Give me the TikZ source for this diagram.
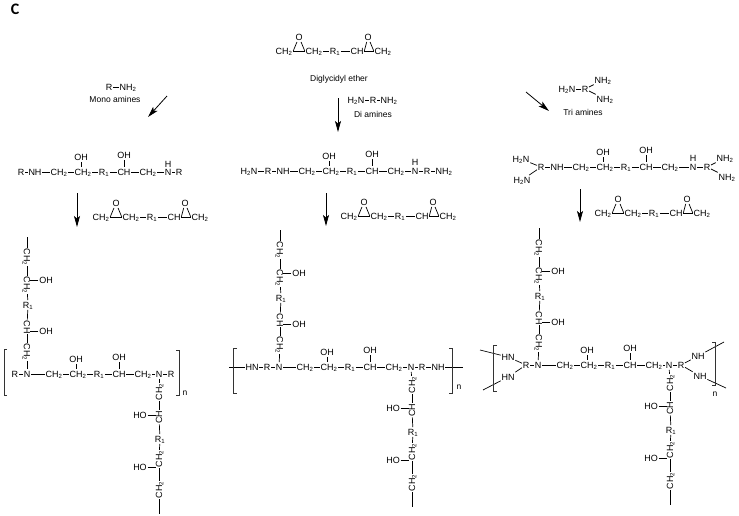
\documentclass[tikz,border=0pt]{standalone}
\usepackage{fontspec}
\setmainfont{Liberation Sans}
\newfontfamily\panelfont{Carlito}
\usepackage{tikz}
\usetikzlibrary{arrows.meta}

\newcommand{\chtwo}{CH\textsubscript{2}}
\newcommand{\chone}{CH}
\newcommand{\rone}{R\textsubscript{1}}
\newcommand{\ntwo}{NH\textsubscript{2}}
\newcommand{\hntwo}{H\textsubscript{2}N}

\tikzset{
  atom/.style={font=\fontsize{9}{10}\selectfont,inner xsep=.6pt,inner ysep=1.5pt,text height=6.4pt,text depth=0pt},
  caption/.style={font=\fontsize{8.5}{10}\selectfont,inner sep=0pt},
  downatom/.style={atom,rotate=-90},
  upatom/.style={atom,rotate=90},
  bond/.style={line width=.7pt},
  sidebond/.style={bond,shorten >=3pt},
  reaction/.style={line width=.8pt,-{Stealth[length=11pt,width=6pt,inset=2.5pt]}},
  brk/.style={line width=.8pt,black!80}
}

% epoxide ends with the R1 link
\newcommand{\epoxy}[3]{%
  \begin{scope}[shift={(#2,#3)},name prefix=#1-]
    \node[atom] (a) at (0,0) {\chtwo};
    \node[atom] (o1) at (15,-14) {O};
    \node[atom] (b) at (30,0) {\chtwo};
    \node[atom] (r) at (51,0) {\rone};
    \node[atom] (c) at (73,0) {\chone};
    \node[atom] (o2) at (84,-14) {O};
    \node[atom] (d) at (99,0) {\chtwo};
    \draw[bond] (a) -- (b);
    \draw[bond] (o1) -- (a.east);
    \draw[bond] (o1) -- (b.west);
    \draw[bond] (b) -- (r);
    \draw[bond] (r) -- (c);
    \draw[bond] (c) -- (d);
    \draw[bond] (o2) -- (c.east);
    \draw[bond] (o2) -- (d.west);
  \end{scope}}

% opened middle part of the chain
\newcommand{\midchain}[3]{%
  \begin{scope}[shift={(#2,#3)},name prefix=#1-]
    \node[atom] (a) at (0,0) {\chtwo};
    \node[atom] (b) at (24,0) {\chtwo};
    \node[atom] (r) at (45,0) {\rone};
    \node[atom] (c) at (65,0) {\chone};
    \node[atom] (d) at (89,0) {\chtwo};
    \node[atom] (oh1) at (22,-15) {OH};
    \node[atom] (oh2) at (65,-17) {OH};
    \draw[bond] (a) -- (b);
    \draw[bond] (b) -- (r);
    \draw[bond] (r) -- (c);
    \draw[bond] (c) -- (d);
    \draw[bond] (oh1) -- (oh1 |- b.north);
    \draw[bond] (oh2) -- (c);
  \end{scope}}

% side chain above the nitrogen
\newcommand{\upchain}[3]{%
  \begin{scope}[shift={(#2,#3)},name prefix=#1-]
    \node[downatom] (a) at (0,-22) {\chtwo};
    \node[downatom] (b) at (0,-47) {\chone};
    \node[atom] (r) at (1,-69) {\rone};
    \node[downatom] (c) at (0,-89) {\chtwo};
    \node[downatom] (d) at (0,-117) {\chtwo};
    \coordinate (e) at (0,-137);
    \node[atom] (oh1) at (19,-43) {OH};
    \node[atom] (oh2) at (19,-94) {OH};
    \draw[bond] (a) -- (b);
    \draw[bond] (b) -- (r);
    \draw[bond] (r) -- (c);
    \draw[bond] (c) -- (d);
    \draw[bond] (d) -- (e);
    \draw[sidebond] (oh1) -- (oh1 -| b);
    \draw[sidebond] (oh2) -- (oh2 -| c);
  \end{scope}}

% side chain below the nitrogen
\newcommand{\downchain}[3]{%
  \begin{scope}[shift={(#2,#3)},name prefix=#1-]
    \node[upatom] (a) at (0,18) {\chtwo};
    \node[upatom] (b) at (0,43) {\chone};
    \node[atom] (r) at (1,65) {\rone};
    \node[upatom] (c) at (0,85) {\chtwo};
    \node[upatom] (d) at (0,116) {\chtwo};
    \coordinate (e) at (0,140);
    \node[atom] (ho1) at (-19,41) {HO};
    \node[atom] (ho2) at (-19,93) {HO};
    \draw[bond] (a) -- (b);
    \draw[bond] (b) -- (r);
    \draw[bond] (r) -- (c);
    \draw[bond] (c) -- (d);
    \draw[bond] (d) -- (e);
    \draw[sidebond] (ho1) -- (ho1 -| b);
    \draw[sidebond] (ho2) -- (ho2 -| c);
  \end{scope}}

\begin{document}
\begin{tikzpicture}[x=1pt,y=-1pt]
  \useasboundingbox (0,0) rectangle (739,515);
  \node[font=\panelfont\bfseries\fontsize{16}{18}\selectfont,inner sep=0pt] (panel) at (15,9) {C};

  \epoxy{top}{284}{51}
  \node[caption] (ether) at (339,79) {Diglycidyl ether};

  % the three amines
  \node[atom] (m-r) at (109,87) {R};
  \node[atom] (m-n) at (128,87) {\ntwo};
  \node[caption] (mono) at (115,99) {Mono amines};
  \draw[bond] (m-r) -- (m-n);

  \node[atom] (di-a) at (356,100) {\hntwo};
  \node[atom] (di-r) at (373,100) {R};
  \node[atom] (di-b) at (389,100) {\ntwo};
  \node[caption] (di) at (373,114) {Di amines};
  \draw[bond] (di-a) -- (di-r);
  \draw[bond] (di-r) -- (di-b);

  \node[atom] (tri-a) at (567,89) {\hntwo};
  \node[atom] (tri-r) at (585,89) {R};
  \node[atom] (tri-b) at (603,80) {\ntwo};
  \node[atom] (tri-c) at (605,99) {\ntwo};
  \node[caption] (tri) at (583,112) {Tri amines};
  \draw[bond] (tri-a) -- (tri-r);
  \draw[bond] (tri-r) -- (tri-b);
  \draw[bond] (tri-r) -- (tri-c);

  % arrows
  \coordinate (s1) at (167,96);
  \coordinate (t1) at (148,117);
  \coordinate (s2) at (338,98);
  \coordinate (t2) at (338,132);
  \coordinate (s3) at (526,92);
  \coordinate (t3) at (549,111);
  \coordinate (s4) at (77,193);
  \coordinate (t4) at (77,227);
  \coordinate (s5) at (326,193);
  \coordinate (t5) at (326,226);
  \coordinate (s6) at (580,189);
  \coordinate (t6) at (580,222);
  \draw[reaction] (s1) -- (t1);
  \draw[reaction] (s2) -- (t2);
  \draw[reaction] (s3) -- (t3);
  \draw[reaction] (s4) -- (t4);
  \draw[reaction] (s5) -- (t5);
  \draw[reaction] (s6) -- (t6);

  \epoxy{ep1}{101}{217}
  \epoxy{ep2}{349}{216}
  \epoxy{ep3}{603}{213}

  % first adducts
  \midchain{la}{59}{172}
  \node[atom] (la-r1) at (21,172) {R};
  \node[atom] (la-nh) at (35,172) {NH};
  \node[atom] (la-n) at (168,172) {N};
  \node[atom] (la-h) at (168,164) {H};
  \node[atom] (la-r2) at (179,172) {R};
  \draw[bond] (la-r1) -- (la-nh);
  \draw[bond] (la-nh) -- (la-a);
  \draw[bond] (la-d) -- (la-n);
  \draw[bond] (la-n) -- (la-r2);

  \midchain{ca}{307}{171}
  \node[atom] (ca-x) at (249,171) {\hntwo};
  \node[atom] (ca-r1) at (268,171) {R};
  \node[atom] (ca-nh) at (283,171) {NH};
  \node[atom] (ca-n) at (415,171) {N};
  \node[atom] (ca-h) at (415,162.5) {H};
  \node[atom] (ca-r2) at (427,171) {R};
  \node[atom] (ca-y) at (444,171) {\ntwo};
  \draw[bond] (ca-x) -- (ca-r1);
  \draw[bond] (ca-r1) -- (ca-nh);
  \draw[bond] (ca-nh) -- (ca-a);
  \draw[bond] (ca-d) -- (ca-n);
  \draw[bond] (ca-n) -- (ca-r2);
  \draw[bond] (ca-r2) -- (ca-y);

  \midchain{ra}{581}{167}
  \node[atom] (ra-x1) at (521,159) {\hntwo};
  \node[atom] (ra-x2) at (522,180) {\hntwo};
  \node[atom] (ra-r1) at (541,167) {R};
  \node[atom] (ra-nh) at (557,167) {NH};
  \node[atom] (ra-n) at (693,167) {N};
  \node[atom] (ra-h) at (693,158.5) {H};
  \node[atom] (ra-r2) at (707,167) {R};
  \node[atom] (ra-y1) at (725,158) {\ntwo};
  \node[atom] (ra-y2) at (727,177) {\ntwo};
  \draw[bond] (ra-x1) -- (ra-r1);
  \draw[bond] (ra-x2) -- (ra-r1);
  \draw[bond] (ra-r1) -- (ra-nh);
  \draw[bond] (ra-nh) -- (ra-a);
  \draw[bond] (ra-d) -- (ra-n);
  \draw[bond] (ra-n) -- (ra-r2);
  \draw[bond] (ra-r2) -- (ra-y1);
  \draw[bond] (ra-r2) -- (ra-y2);

  % networks
  \midchain{lb}{54}{374}
  \node[atom] (lb-r1) at (15,374) {R};
  \node[atom] (lb-n1) at (27,374) {N};
  \node[atom] (lb-n2) at (159,374) {N};
  \node[atom] (lb-r2) at (171,374) {R};
  \node[caption] (lb-cnt) at (185,393) {n};
  \upchain{lb-up}{27}{374}
  \downchain{lb-dn}{159}{374}
  \draw[bond] (lb-r1) -- (lb-n1);
  \draw[bond] (lb-n1) -- (lb-a);
  \draw[bond] (lb-d) -- (lb-n2);
  \draw[bond] (lb-n2) -- (lb-r2);
  \draw[bond] (lb-n1) -- (lb-up-a);
  \draw[bond] (lb-n2) -- (lb-dn-a);
  \draw[brk] (7,349) -- (4,349) -- (4,395) -- (7,395);
  \draw[brk] (176,350) -- (179,350) -- (179,395) -- (176,395);

  \midchain{cb}{305}{367}
  \coordinate (cb-s) at (229,367);
  \coordinate (cb-t) at (463,367);
  \node[atom] (cb-hn) at (252,367) {HN};
  \node[atom] (cb-r1) at (267,367) {R};
  \node[atom] (cb-n1) at (279,367) {N};
  \node[atom] (cb-n2) at (411,367) {N};
  \node[atom] (cb-r2) at (422,367) {R};
  \node[atom] (cb-nh) at (438,367) {NH};
  \node[caption] (cb-cnt) at (459,387) {n};
  \upchain{cb-up}{280}{367}
  \downchain{cb-dn}{412}{367}
  \draw[bond] (cb-s) -- (cb-hn);
  \draw[bond] (cb-hn) -- (cb-r1);
  \draw[bond] (cb-r1) -- (cb-n1);
  \draw[bond] (cb-n1) -- (cb-a);
  \draw[bond] (cb-d) -- (cb-n2);
  \draw[bond] (cb-n2) -- (cb-r2);
  \draw[bond] (cb-r2) -- (cb-nh);
  \draw[bond] (cb-nh) -- (cb-t);
  \draw[bond] (cb-n1) -- (cb-up-a);
  \draw[bond] (cb-n2) -- (cb-dn-a);
  \draw[brk] (237,348) -- (233,348) -- (233,393) -- (237,393);
  \draw[brk] (449,348) -- (452,348) -- (452,393) -- (449,393);

  \midchain{rb}{565}{365}
  \coordinate (rb-s1) at (480,350);
  \coordinate (rb-s2) at (483,390);
  \coordinate (rb-t1) at (724,342);
  \coordinate (rb-t2) at (726,388);
  \node[atom] (rb-hn1) at (508,357) {HN};
  \node[atom] (rb-hn2) at (508,377) {HN};
  \node[atom] (rb-r1) at (526,365) {R};
  \node[atom] (rb-n1) at (538,365) {N};
  \node[atom] (rb-n2) at (669,365) {N};
  \node[atom] (rb-r2) at (681,365) {R};
  \node[atom] (rb-nh1) at (698,356) {NH};
  \node[atom] (rb-nh2) at (700,376) {NH};
  \node[caption] (rb-cnt) at (715,394) {n};
  \upchain{rb-up}{539}{365}
  \downchain{rb-dn}{670}{365}
  \draw[bond] (rb-s1) -- (rb-hn1);
  \draw[bond] (rb-s2) -- (rb-hn2);
  \draw[bond] (rb-hn1) -- (rb-r1);
  \draw[bond] (rb-hn2) -- (rb-r1);
  \draw[bond] (rb-r1) -- (rb-n1);
  \draw[bond] (rb-n1) -- (rb-a);
  \draw[bond] (rb-d) -- (rb-n2);
  \draw[bond] (rb-n2) -- (rb-r2);
  \draw[bond] (rb-r2) -- (rb-nh1);
  \draw[bond] (rb-r2) -- (rb-nh2);
  \draw[bond] (rb-nh1) -- (rb-t1);
  \draw[bond] (rb-nh2) -- (rb-t2);
  \draw[bond] (rb-n1) -- (rb-up-a);
  \draw[bond] (rb-n2) -- (rb-dn-a);
  \draw[brk] (497,345) -- (493,345) -- (493,391) -- (497,391);
  \draw[brk] (712,342) -- (715,342) -- (715,385) -- (712,385);
\end{tikzpicture}
\end{document}
